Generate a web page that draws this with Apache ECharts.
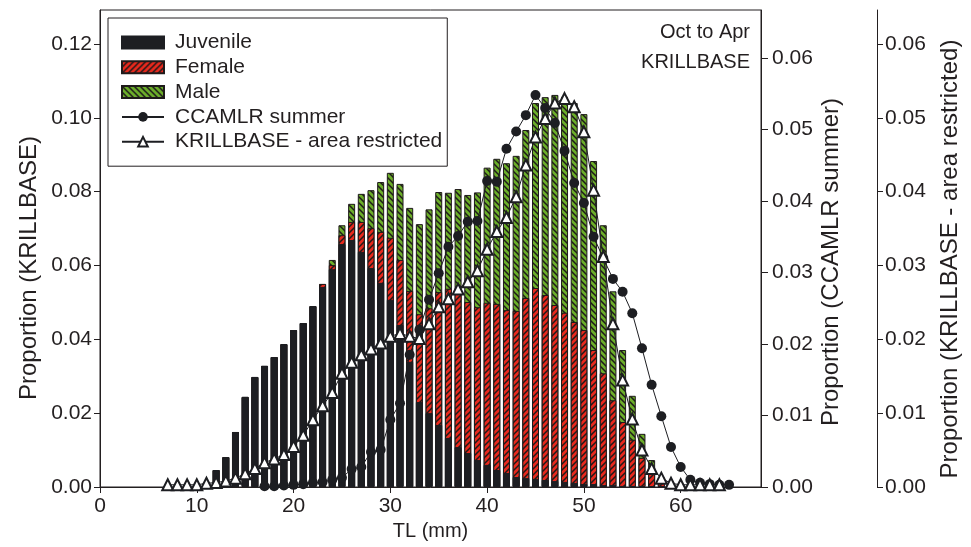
<!DOCTYPE html>
<html>
<head>
<meta charset="utf-8">
<title>Krill length frequency</title>
<script src="https://cdn.jsdelivr.net/npm/echarts@6/dist/echarts.min.js"></script>
<style>
  html, body { margin: 0; padding: 0; background: #ffffff; }
  #chart { width: 971px; height: 547px; }
</style>
</head>
<body>
<div id="chart"></div>
<script>
// Length classes (TL, mm) for the stacked KRILLBASE bars
const barTL = [12,13,14,15,16,17,18,19,20,21,22,23,24,25,26,27,28,29,30,31,32,33,34,35,
               36,37,38,39,40,41,42,43,44,45,46,47,48,49,50,51,52,53,54,55,56,57,58,59];
const juvenile = [0.0046,0.0081,0.0149,0.0244,0.0298,0.0328,0.0352,0.0387,0.0425,0.0444,0.0490,0.0542,
                  0.0590,0.0658,0.0669,0.0637,0.0593,0.0553,0.0507,0.0439,0.0339,0.0230,0.0200,0.0168,
                  0.0133,0.0108,0.0092,0.0073,0.0060,0.0046,0.0038,0.0027,0.0024,0.0022,0.0019,0.0016,
                  0.0014,0.0011,0.0008,0.0008,0.0005,0.0005,0.0003,0.0003,0.0003,0.0002,0.0001,0];
const female = [0,0,0,0,0,0,0,0,0,0,0,0.0008,
                0.0011,0.0024,0.0049,0.0081,0.0108,0.0138,0.0168,0.0176,0.0192,0.0238,0.0284,0.0360,
                0.0404,0.0417,0.0409,0.0414,0.0439,0.0450,0.0441,0.0450,0.0488,0.0517,0.0501,0.0477,
                0.0458,0.0436,0.0417,0.0363,0.0303,0.0230,0.0173,0.0125,0.0076,0.0038,0.0022,0.0008];
const male = [0,0,0,0,0,0,0,0,0,0,0,0,
              0.0014,0.0027,0.0049,0.0076,0.0103,0.0135,0.0176,0.0206,0.0225,0.0244,0.0268,0.0271,
              0.0260,0.0282,0.0290,0.0311,0.0366,0.0393,0.0398,0.0420,0.0455,0.0501,0.0536,0.0569,
              0.0585,0.0593,0.0585,0.0512,0.0401,0.0295,0.0195,0.0119,0.0065,0.0033,0.0003,0.0001];

// CCAMLR summer survey distribution (second axis)
const ccamlrTL = [17,18,19,20,21,22,23,24,25,26,27,28,29,30,31,32,33,34,35,36,37,38,39,40,41,
                  42,43,44,45,46,47,48,49,50,51,52,53,54,55,56,57,58,59,60,61,62,63,64,65];
const ccamlr = [0.0001,0.0001,0.0002,0.0003,0.0004,0.0006,0.0007,0.0010,0.0013,0.0025,0.0028,0.0049,
                0.0052,0.0094,0.0117,0.0185,0.0220,0.0262,0.0299,0.0336,0.0351,0.0371,0.0372,0.0428,
                0.0427,0.0473,0.0497,0.0520,0.0548,0.0530,0.0509,0.0470,0.0425,0.0397,0.0350,0.0320,
                0.0291,0.0273,0.0243,0.0194,0.0143,0.0099,0.0056,0.0028,0.0010,0.0006,0.0004,0.0003,0.0003];

// KRILLBASE, area restricted (third axis)
const kbAreaTL = [7,8,9,10,11,12,13,14,15,16,17,18,19,20,21,22,23,24,25,26,27,28,29,30,31,32,33,34,35,
                  36,37,38,39,40,41,42,43,44,45,46,47,48,49,50,51,52,53,54,55,56,57,58,59,60,61,62,63,64];
const kbArea = [0.0003,0.0003,0.0003,0.0003,0.0005,0.0006,0.0008,0.0012,0.0018,0.0025,0.0033,0.0038,
                0.0044,0.0055,0.0070,0.0091,0.0110,0.0128,0.0154,0.0169,0.0179,0.0187,0.0195,0.0204,
                0.0208,0.0204,0.0201,0.0221,0.0244,0.0255,0.0268,0.0278,0.0293,0.0322,0.0346,0.0365,
                0.0393,0.0436,0.0474,0.0499,0.0520,0.0526,0.0515,0.0481,0.0402,0.0312,0.0221,0.0145,
                0.0092,0.0050,0.0025,0.0012,0.0005,0.0003,0.0003,0.0003,0.0003,0.0003];

// Axis tick values
const xTicks = [0,10,20,30,40,50,60];
const leftTicks = [0,0.02,0.04,0.06,0.08,0.10,0.12];
const rightTicks = [0,0.01,0.02,0.03,0.04,0.05,0.06];

const INK = '#231f20';
const FONT = '"Liberation Sans", Arial, Helvetica, sans-serif';

// Hatched fills for the female and male bars
function hatch(bg, forward) {
  const s = 6;
  const c = document.createElement('canvas');
  c.width = s; c.height = s;
  const g = c.getContext('2d');
  g.fillStyle = bg;
  g.fillRect(0, 0, s, s);
  g.strokeStyle = '#1e1a1a';
  g.lineWidth = 1.5;
  g.beginPath();
  if (forward) {
    g.moveTo(-1, 1); g.lineTo(1, -1);
    g.moveTo(0, s); g.lineTo(s, 0);
    g.moveTo(s - 1, s + 1); g.lineTo(s + 1, s - 1);
  } else {
    g.moveTo(-1, s - 1); g.lineTo(1, s + 1);
    g.moveTo(0, 0); g.lineTo(s, s);
    g.moveTo(s - 1, -1); g.lineTo(s + 1, 1);
  }
  g.stroke();
  return { image: c, repeat: 'repeat' };
}

function pairs(xs, ys) { return xs.map((x, i) => [x, ys[i]]); }

// Segment tops of the stacked column: juvenile, juvenile + female, all three
const juvTop = juvenile.slice();
const femTop = juvenile.map((v, i) => v + female[i]);
const allTop = juvenile.map((v, i) => v + female[i] + male[i]);

const X_MAX = 68.3;
const LEFT_MAX = 0.1292;
const MID_MAX = 0.0667;
const FAR_MAX = 0.0646;

const labelStyle = { color: INK, fontFamily: FONT, fontSize: 21 };

function yAxisCommon(max, ticks, pos, offset, tickLen, margin) {
  return {
    type: 'value', min: 0, max: max, position: pos, offset: offset,
    axisLine: { show: true, lineStyle: { color: INK, width: 1 } },
    axisTick: { show: true, inside: false, length: tickLen, customValues: ticks, lineStyle: { color: INK } },
    axisLabel: Object.assign({ margin: margin, customValues: ticks, formatter: v => v.toFixed(2) }, labelStyle),
    splitLine: { show: false }
  };
}

// Vertical axis titles, reading bottom to top
function sideTitle(text, x, y) {
  return {
    type: 'text', x: x, y: y, rotation: Math.PI / 2, z: 10,
    style: { text: text, fill: INK, font: '24px ' + FONT, textAlign: 'center', textVerticalAlign: 'middle' }
  };
}

const barCommon = {
  type: 'bar', barWidth: 7, barGap: '-100%', xAxisIndex: 0, yAxisIndex: 0,
  emphasis: { disabled: true }
};

const chart = echarts.init(document.getElementById('chart'), null, { renderer: 'canvas' });
chart.setOption({
  animation: false,
  backgroundColor: '#ffffff',
  grid: { left: 100, right: 210, top: 10, bottom: 60, show: true, borderColor: INK, borderWidth: 1 },
  legend: {
    orient: 'vertical', left: 108, top: 18,
    padding: [14, 5, 14, 13],
    borderColor: INK, borderWidth: 1,
    itemWidth: 42, itemHeight: 12, itemGap: 3.8,
    textStyle: { color: INK, fontFamily: FONT, fontSize: 21, lineHeight: 21, padding: [0, 0, 0, 6] },
    data: [
      { name: 'Juvenile', icon: 'rect' },
      { name: 'Female', icon: 'rect' },
      { name: 'Male', icon: 'rect' },
      'CCAMLR summer',
      'KRILLBASE - area restricted'
    ]
  },
  xAxis: {
    type: 'value', min: 0, max: X_MAX,
    name: 'TL (mm)', nameLocation: 'middle', nameGap: 25,
    nameTextStyle: { color: INK, fontFamily: FONT, fontSize: 20 },
    axisLine: { show: true, onZero: false, lineStyle: { color: INK, width: 1 } },
    axisTick: { show: true, length: 6, customValues: xTicks, lineStyle: { color: INK } },
    axisLabel: Object.assign({ margin: 9, customValues: xTicks }, labelStyle),
    splitLine: { show: false }
  },
  yAxis: [
    yAxisCommon(LEFT_MAX, leftTicks, 'left', 0, 6, 8),
    yAxisCommon(MID_MAX, rightTicks, 'right', 0, 7, 11),
    yAxisCommon(FAR_MAX, rightTicks, 'right', 116, 6, 8)
  ],
  graphic: [
    { type: 'text', right: 221, top: 22, z: 10,
      style: { text: 'Oct to Apr', fill: INK, font: '20px ' + FONT, textAlign: 'right' } },
    { type: 'text', right: 221, top: 52, z: 10,
      style: { text: 'KRILLBASE', fill: INK, font: '20px ' + FONT, textAlign: 'right' } },
    sideTitle('Proportion (KRILLBASE)', 29, 268),
    sideTitle('Proportion (CCAMLR summer)', 831, 262),
    sideTitle('Proportion (KRILLBASE - area restricted)', 950, 259)
  ],
  series: [
    // drawn back to front so each segment shows above the one beneath it
    Object.assign({}, barCommon, {
      name: 'Male', data: pairs(barTL, allTop), z: 2,
      itemStyle: { color: hatch('#6cae2a', false), borderColor: '#1e1a1a', borderWidth: 1 }
    }),
    Object.assign({}, barCommon, {
      name: 'Female', data: pairs(barTL, femTop), z: 2,
      itemStyle: { color: hatch('#e8291d', true), borderColor: '#1e1a1a', borderWidth: 1 }
    }),
    Object.assign({}, barCommon, {
      name: 'Juvenile', data: pairs(barTL, juvTop), z: 2,
      itemStyle: { color: '#1d1e22', borderColor: '#1d1e22', borderWidth: 1 }
    }),
    {
      name: 'CCAMLR summer', type: 'line', xAxisIndex: 0, yAxisIndex: 1, z: 3,
      data: pairs(ccamlrTL, ccamlr),
      symbol: 'circle', symbolSize: 10,
      lineStyle: { color: '#1d1e22', width: 1 },
      itemStyle: { color: '#1d1e22', borderColor: '#1d1e22', borderWidth: 0 },
      emphasis: { disabled: true }
    },
    {
      name: 'KRILLBASE - area restricted', type: 'line', xAxisIndex: 0, yAxisIndex: 2, z: 4,
      data: pairs(kbAreaTL, kbArea),
      symbol: 'triangle', symbolSize: 11,
      lineStyle: { color: '#1d1e22', width: 1 },
      itemStyle: { color: '#ffffff', borderColor: '#1d1e22', borderWidth: 2 },
      emphasis: { disabled: true }
    }
  ]
});
</script>
</body>
</html>
